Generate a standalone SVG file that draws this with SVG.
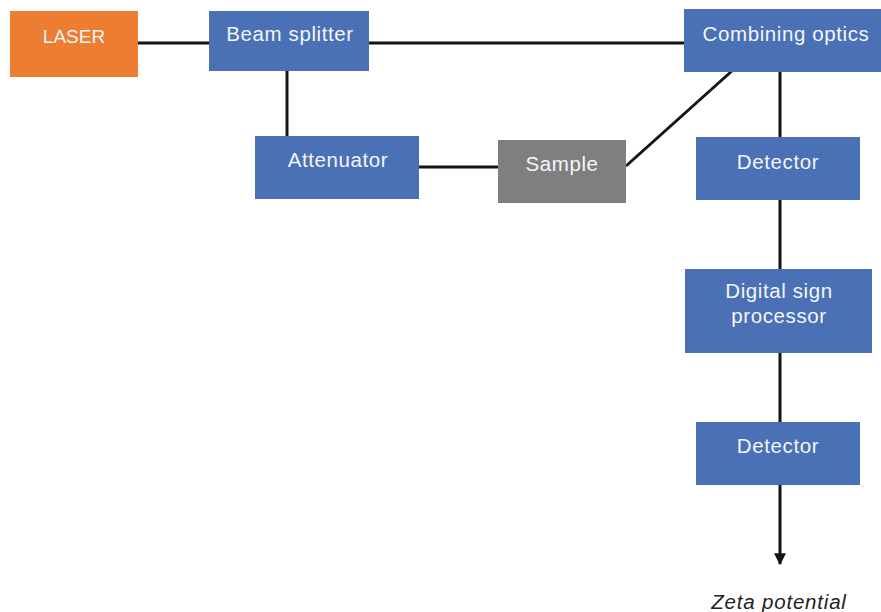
<svg xmlns="http://www.w3.org/2000/svg" width="881" height="612" viewBox="0 0 881 612">
  <style>
    .box { fill: #4A70B5; }
    .laser { fill: #ED7D31; }
    .sample { fill: #7F7F7F; }
    .lbl { font-family: "Liberation Sans", Arial, sans-serif; font-size: 20.5px; letter-spacing: 0.6px; fill: #F4F6FB; text-anchor: middle; }
    .caps { font-size: 19px; letter-spacing: 0; }
    .wire { stroke: #141414; stroke-width: 3; fill: none; }
    .out { font-family: "Liberation Sans", Arial, sans-serif; font-size: 20.5px; letter-spacing: 0.8px; font-style: italic; fill: #222222; text-anchor: middle; }
  </style>
  <defs>
    <marker id="arrow" viewBox="0 0 10 10" refX="9" refY="5" markerWidth="4" markerHeight="4" orient="auto" markerUnits="strokeWidth">
      <path d="M0,0 L10,5 L0,10 z" fill="#141414"/>
    </marker>
  </defs>

  <!-- connectors -->
  <g id="connectors">
    <line class="wire" x1="138" y1="43" x2="209" y2="43"/>
    <line class="wire" x1="369" y1="43" x2="684" y2="43"/>
    <line class="wire" x1="287" y1="71" x2="287" y2="136"/>
    <line class="wire" x1="419" y1="167" x2="498" y2="167"/>
    <line class="wire" x1="626" y1="166" x2="733" y2="70"/>
    <line class="wire" x1="780" y1="72" x2="780" y2="137"/>
    <line class="wire" x1="780" y1="200" x2="780" y2="269"/>
    <line class="wire" x1="780" y1="353" x2="780" y2="422"/>
    <line class="wire" x1="780" y1="485" x2="780" y2="564" marker-end="url(#arrow)"/>
  </g>

  <g id="laser">
    <rect class="laser" x="10" y="11" width="128" height="66"/>
    <text class="lbl caps" x="74" y="43">LASER</text>
  </g>
  <g id="beam-splitter">
    <rect class="box" x="209" y="11" width="160" height="60"/>
    <text class="lbl" x="290" y="41">Beam splitter</text>
  </g>
  <g id="combining-optics">
    <rect class="box" x="684" y="9" width="197" height="63"/>
    <text class="lbl" x="786" y="41">Combining optics</text>
  </g>
  <g id="attenuator">
    <rect class="box" x="255" y="136" width="164" height="63"/>
    <text class="lbl" x="338" y="167">Attenuator</text>
  </g>
  <g id="sample">
    <rect class="sample" x="498" y="140" width="128" height="63"/>
    <text class="lbl" x="562" y="171">Sample</text>
  </g>
  <g id="detector-1">
    <rect class="box" x="696" y="137" width="164" height="63"/>
    <text class="lbl" x="778" y="169">Detector</text>
  </g>
  <g id="dsp">
    <rect class="box" x="685" y="269" width="187" height="84"/>
    <text class="lbl" x="779" y="298">Digital sign</text>
    <text class="lbl" x="779" y="323">processor</text>
  </g>
  <g id="detector-2">
    <rect class="box" x="696" y="422" width="164" height="63"/>
    <text class="lbl" x="778" y="453">Detector</text>
  </g>
  <g id="zeta-potential">
    <text class="out" x="779" y="609">Zeta potential</text>
  </g>
</svg>
